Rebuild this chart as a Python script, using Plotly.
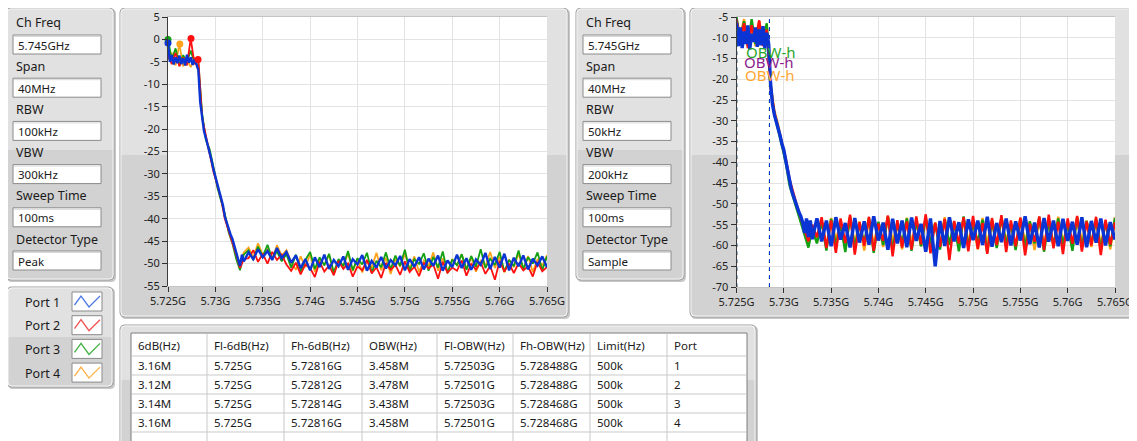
import numpy as np
import plotly.graph_objects as go

W, H = 1137, 441          # target screenshot size
PAGE_OFF = 8              # the page places the figure 8 px in from the top-left corner
FIG_W, FIG_H = W - PAGE_OFF, H - PAGE_OFF
FONT = "Noto Sans"

# ---------------- data ----------------
start_ghz = 5.725
stop_ghz = 5.765
x_tick_ghz = [5.725, 5.73, 5.735, 5.74, 5.745, 5.75, 5.755, 5.76, 5.765]
x_tick_labels = ["5.725G", "5.73G", "5.735G", "5.74G", "5.745G", "5.75G", "5.755G", "5.76G", "5.765G"]
left_y_ticks = [5, 0, -5, -10, -15, -20, -25, -30, -35, -40, -45, -50, -55]
right_y_ticks = [-5, -10, -15, -20, -25, -30, -35, -40, -45, -50, -55, -60, -65, -70]

setting_labels = ["Ch Freq", "Span", "RBW", "VBW", "Sweep Time", "Detector Type"]
left_setting_values = ["5.745GHz", "40MHz", "100kHz", "300kHz", "100ms", "Peak"]
right_setting_values = ["5.745GHz", "40MHz", "50kHz", "200kHz", "100ms", "Sample"]

port_names = ["Port 1", "Port 2", "Port 3", "Port 4"]
port_colors = ["#0a34d4", "#ff1010", "#13a013", "#ffa31a"]
legend_colors = ["#4f78e6", "#f05050", "#40b040", "#ffb040"]

# sample positions (MHz above start frequency)
offset_fine_mhz = np.concatenate([np.arange(0, 8.01, 0.2), np.arange(8.5, 40.01, 0.5)])
offset_coarse_mhz = np.concatenate([np.arange(0, 8.01, 0.4), np.arange(8.5, 40.01, 0.5)])

# left graph (Peak detector), dBm
peak_p1 = [-1.0, -5.0, -3.5, -5.6, -4.0, -5.3, -3.6, -5.5, -4.2, -5.8,
           -3.4, -5.2, -4.0, -5.7, -4.4, -5.4, -6.8, -14.0, -18.0, -20.5,
           -22.0, -23.5, -25.0, -27.0, -29.0, -30.5, -32.0, -33.5, -35.0, -37.0,
           -39.5, -41.0, -42.0, -43.5, -44.5, -46.0, -47.5, -49.5, -50.5, -48.0,
           -49.5,
           -47.5, -49.0, -46.8, -48.6, -47.2, -49.2, -46.5, -48.8, -47.4,
           -49.8, -48.2, -51.0, -49.0, -51.5, -48.6, -50.8, -48.0, -51.2, -49.2,
           -50.6, -48.4, -51.4, -49.0, -50.2, -48.1, -51.6, -49.4, -50.9, -48.5,
           -51.1, -49.2, -50.4, -48.3, -51.5, -49.0, -50.7, -48.6, -51.3, -48.9,
           -50.5, -48.2, -51.6, -49.3, -50.8, -48.0, -51.0, -48.8, -51.4, -49.1,
           -50.3, -47.6, -51.2, -48.5, -50.9, -47.8, -51.5, -48.7, -50.6, -48.2,
           -51.3, -48.9, -50.4, -48.4, -50.8]
peak_p2 = [-3.5, -5.5, -3.0, -6.0, -4.0, -5.8, 0.2, -5.5, -4.5, -17.5,
           -21.5, -25.5, -29.5, -32.5, -35.5, -40.0, -42.5, -45.0, -48.0, -51.0,
           -49.0,
           -48.8, -47.0, -49.6, -47.8, -50.0, -47.4, -49.2, -48.0, -50.2,
           -51.6, -49.8, -52.4, -50.2, -51.0, -53.0, -49.6, -51.8, -50.4, -52.6,
           -49.4, -51.2, -50.0, -52.9, -50.6, -51.5, -49.2, -52.2, -50.8, -53.2,
           -49.9, -51.4, -50.3, -52.5, -49.5, -51.9, -50.7, -52.8, -49.8, -51.1,
           -50.2, -53.4, -49.6, -52.0, -50.9, -51.6, -49.3, -52.7, -50.1, -51.3,
           -49.7, -52.3, -50.5, -53.6, -49.4, -51.8, -50.0, -52.1, -49.9, -51.5,
           -50.6, -52.9, -49.6, -51.7, -50.8]
peak_p3 = [0.0, -4.5, -2.0, -5.8, -3.5, -5.0, -2.5, -5.2, -5.0, -16.5,
           -22.5, -24.5, -28.5, -33.0, -36.0, -39.0, -43.0, -45.5, -49.0, -51.5,
           -48.0,
           -47.0, -49.2, -46.2, -48.4, -45.8, -48.9, -47.3, -49.5, -47.9,
           -50.9, -48.0, -51.8, -49.2, -47.4, -51.2, -48.6, -50.4, -47.8, -52.0,
           -49.0, -50.6, -47.2, -51.5, -48.8, -50.2, -47.6, -51.9, -49.4, -50.8,
           -47.5, -51.3, -48.2, -50.5, -46.9, -51.7, -49.0, -50.1, -47.7, -51.6,
           -48.5, -50.9, -47.3, -52.1, -49.1, -50.4, -47.9, -51.4, -48.3, -50.7,
           -46.8, -51.0, -48.9, -50.3, -47.4, -51.8, -49.2, -50.6, -47.1, -51.2,
           -48.6, -50.0, -47.5, -51.5, -48.4]
peak_p4 = [-4.5, -3.0, -5.8, -1.0, -6.0, -4.5, -6.2, -4.0, -6.8, -17.0,
           -22.0, -25.5, -29.0, -32.5, -35.5, -39.5, -42.5, -45.0, -48.0, -50.0,
           -47.5,
           -46.4, -48.6, -45.5, -48.0, -46.8, -49.0, -45.9, -48.2, -47.0,
           -49.6, -51.4, -48.4, -50.8, -47.9, -51.9, -49.1, -50.3, -48.0, -52.2,
           -49.5, -50.6, -47.7, -51.7, -48.9, -52.0, -49.2, -50.9, -47.6, -51.5,
           -48.7, -52.3, -49.0, -50.7, -47.8, -51.2, -48.4, -51.9, -49.3, -50.5,
           -47.5, -51.6, -48.8, -52.1, -49.0, -50.4, -47.9, -51.3, -48.6, -51.8,
           -49.4, -50.6, -47.4, -51.0, -48.5, -52.0, -49.1, -50.8, -47.7, -51.4,
           -48.3, -51.9, -49.0, -50.5, -48.1]

# peak markers on left graph
marker_p1_ghz, marker_p1_db = [5.725], [-0.8]
marker_p2_ghz, marker_p2_db = [5.72743, 5.72817], [0.2, -4.5]
marker_p3_ghz, marker_p3_db = [5.725], [0.0]
marker_p4_ghz, marker_p4_db = [5.72625], [-1.0]

# right graph (Sample detector), dBm
samp_p1 = [-6.5, -12.0, -7.5, -12.5, -8.5, -11.5, -7.0, -12.8, -9.0, -11.0,
           -7.5, -12.2, -8.0, -11.8, -7.2, -12.6, -8.8, -11.5, -21.0, -26.0,
           -28.5, -30.0, -32.0, -33.5, -35.5, -37.0, -39.5, -42.0, -44.5, -46.5,
           -48.0, -49.5, -50.5, -52.0, -53.0, -54.5, -57.0, -53.5, -58.0, -54.0,
           -58.5,
           -53.5, -59.0, -54.0, -60.2, -53.2, -58.6, -54.6, -60.5, -53.4, -59.3,
           -54.2, -59.8, -53.0, -58.8, -54.5, -61.0, -53.6, -59.5, -54.0, -60.4,
           -53.3, -58.9, -54.8, -61.5, -53.5, -65.0, -54.1, -60.1, -53.2, -59.0,
           -54.4, -60.6, -53.7, -58.7, -54.0, -59.9, -53.1, -60.3, -54.6, -59.2,
           -53.5, -60.0, -54.2, -58.8, -53.0, -59.7, -54.5, -60.5, -53.4, -59.1,
           -54.0, -60.2, -53.6, -58.9, -54.3, -59.8, -53.2, -60.4, -54.1, -59.3,
           -53.5, -60.0, -54.4, -58.6]
samp_p2 = [-5.5, -11.0, -6.5, -12.5, -7.0, -10.5, -5.8, -12.0, -8.0, -22.0,
           -28.0, -31.5, -35.0, -39.0, -44.0, -47.5, -50.5, -53.5, -56.0, -59.0,
           -55.0,
           -58.0, -53.2, -60.6, -54.0, -61.8, -53.5, -59.4, -52.6, -62.2, -54.4,
           -60.1, -53.1, -61.3, -54.7, -58.9, -52.8, -62.6, -53.9, -60.5, -54.2,
           -61.0, -53.0, -59.7, -52.5, -61.9, -54.5, -60.3, -53.6, -63.5, -54.1,
           -59.5, -53.2, -61.4, -52.9, -60.8, -54.6, -62.0, -53.4, -59.9, -52.7,
           -61.6, -54.0, -60.2, -53.3, -62.4, -54.8, -59.1, -53.0, -61.1, -52.6,
           -60.7, -54.3, -62.1, -53.5, -59.6, -52.9, -61.5, -54.2, -60.0, -53.1,
           -62.3, -53.8, -59.8, -54.4]
samp_p3 = [-5.0, -10.5, -6.0, -12.0, -5.5, -11.5, -7.0, -10.0, -6.5, -21.5,
           -28.5, -32.0, -36.0, -40.0, -45.5, -48.5, -51.5, -54.0, -57.5, -60.5,
           -56.0,
           -59.5, -54.2, -61.2, -53.6, -60.0, -54.9, -61.6, -53.1, -60.4, -55.0,
           -59.2, -53.4, -61.8, -54.3, -59.9, -53.0, -60.9, -54.7, -59.4, -53.5,
           -61.3, -54.1, -60.2, -53.2, -59.6, -54.8, -61.0, -53.7, -59.8, -54.5,
           -61.4, -53.0, -60.1, -54.6, -59.3, -53.8, -61.7, -54.0, -60.6, -53.3,
           -59.7, -54.9, -61.1, -53.6, -60.3, -54.2, -59.5, -53.1, -61.5, -54.4,
           -60.0, -53.5, -59.9, -54.8, -61.3, -53.2, -60.5, -54.1, -59.6, -53.7,
           -61.0, -54.3, -60.2, -53.4]
samp_p4 = [-6.0, -9.5, -5.5, -11.5, -7.5, -12.0, -6.0, -10.5, -7.5, -21.0,
           -27.5, -31.0, -35.5, -39.5, -44.5, -48.0, -51.0, -53.5, -57.0, -59.5,
           -55.5,
           -59.2, -54.0, -60.3, -53.4, -58.7, -54.7, -60.8, -53.1, -59.5, -54.2,
           -61.2, -53.6, -59.7, -54.4, -60.4, -53.0, -59.0, -54.8, -60.9, -53.3,
           -59.4, -54.1, -60.2, -53.8, -58.9, -54.5, -60.7, -53.2, -59.9, -54.3,
           -60.5, -53.7, -59.1, -54.6, -61.0, -53.4, -59.6, -54.0, -60.3, -53.5,
           -58.8, -54.9, -60.6, -53.3, -59.3, -54.2, -61.1, -53.6, -59.8, -54.4,
           -60.1, -53.1, -59.4, -54.7, -60.8, -53.5, -59.0, -54.0, -60.4, -53.8,
           -59.7, -54.3, -60.9, -53.2]

# results table
table_headers = ["6dB(Hz)", "Fl-6dB(Hz)", "Fh-6dB(Hz)", "OBW(Hz)", "Fl-OBW(Hz)", "Fh-OBW(Hz)", "Limit(Hz)", "Port"]
bw6db_mhz = [3.16, 3.12, 3.14, 3.16]
fl6db_ghz = [5.725, 5.725, 5.725, 5.725]
fh6db_ghz = [5.72816, 5.72812, 5.72814, 5.72816]
obw_mhz = [3.458, 3.478, 3.438, 3.458]
flobw_ghz = [5.72503, 5.72501, 5.72503, 5.72501]
fhobw_ghz = [5.728488, 5.728488, 5.728468, 5.728468]
limit_khz = [500, 500, 500, 500]
port_ids = [1, 2, 3, 4]
cursor_label = "OBW-h"

# ---------------- helpers ----------------
shapes = []
annotations = []


def X(p):
    return (p - PAGE_OFF) / FIG_W


def Y(p):
    return 1 - (p - PAGE_OFF) / FIG_H


def rect(x0, y0, x1, y1, fill, line=None, lw=1, layer="below"):
    shapes.append(dict(type="rect", xref="paper", yref="paper",
                       x0=X(x0), x1=X(x1), y0=Y(y1), y1=Y(y0),
                       fillcolor=fill, layer=layer,
                       line=dict(color=line if line else "rgba(0,0,0,0)", width=lw if line else 0)))


def rpath(x0, y0, x1, y1, rt, rb, fill, line=None, lw=1, layer="below"):
    p = (f"M{X(x0 + rt)},{Y(y0)} L{X(x1 - rt)},{Y(y0)} Q{X(x1)},{Y(y0)} {X(x1)},{Y(y0 + rt)} "
         f"L{X(x1)},{Y(y1 - rb)} Q{X(x1)},{Y(y1)} {X(x1 - rb)},{Y(y1)} "
         f"L{X(x0 + rb)},{Y(y1)} Q{X(x0)},{Y(y1)} {X(x0)},{Y(y1 - rb)} "
         f"L{X(x0)},{Y(y0 + rt)} Q{X(x0)},{Y(y0)} {X(x0 + rt)},{Y(y0)} Z")
    shapes.append(dict(type="path", xref="paper", yref="paper", path=p,
                       fillcolor=fill if fill else "rgba(0,0,0,0)", layer=layer,
                       line=dict(color=line if line else "rgba(0,0,0,0)", width=lw if line else 0)))


def panel(x0, y0, x1, y1, split, light="#e1e1e1", dark="#d2d2d2"):
    rpath(x0 + 1, y0 + 1, x1 + 2, y1 + 2, 5, 5, "#c8c8c8")
    rpath(x0, y0, x1, y1, 5, 5, light)
    rpath(x0 + 1, split, x1 - 1, y1 - 1, 0, 4, dark)
    rpath(x0, y0, x1, y1, 5, 5, None, "#9c9c9c", 1)
    rpath(x0 + 1, y0 + 1, x1 - 1, y1 - 1, 4, 4, None, "#f4f4f4", 1)


def text(x, y, s, size=12.5, color="#1a1a1a", anchor="left", family=FONT):
    annotations.append(dict(x=X(x), y=Y(y), xref="paper", yref="paper", text=s, showarrow=False,
                            xanchor=anchor, yanchor="middle",
                            font=dict(family=family, size=size, color=color)))


def line(x0, y0, x1, y1, color, lw=1, layer="below"):
    shapes.append(dict(type="line", xref="paper", yref="paper", x0=X(x0), x1=X(x1),
                       y0=Y(y0), y1=Y(y1), line=dict(color=color, width=lw), layer=layer))


# ---------------- panels ----------------
def control_panel(x0, values):
    panel(x0, 8, x0 + 108, 280, 150)
    for i, (lab, val) in enumerate(zip(setting_labels, values)):
        ly = 23 + 43.2 * i
        by = 35 + 43.2 * i
        text(x0 + 8, ly, lab, size=12.5)
        rect(x0 + 7, by, x0 + 95, by + 19, "white", "#8a8a8a", 1)
        line(x0 + 8, by + 1.5, x0 + 94, by + 1.5, "#d8d8d8")
        text(x0 + 10, by + 10, val, size=11.5)


control_panel(6, left_setting_values)
control_panel(576, right_setting_values)

# legend panel
panel(7, 287, 113, 387, 337)
for i, (nm, c) in enumerate(zip(port_names, legend_colors)):
    cy = 302 + 23.7 * i
    text(23, cy, nm, size=12.5)
    bx0, by0 = 72, cy - 10
    rect(bx0, by0, bx0 + 30, by0 + 19, "white", "#8a8a8a", 1)
    zz = [(bx0 + 2.5, by0 + 13), (bx0 + 9, by0 + 4), (bx0 + 17, by0 + 15), (bx0 + 28, by0 + 4)]
    p = "M" + " L".join(f"{X(a)},{Y(b)}" for a, b in zz)
    shapes.append(dict(type="path", xref="paper", yref="paper", path=p,
                       line=dict(color=c, width=1.3), layer="above"))

# chart panels
panel(120, 8, 568, 317, 155)
rect(168, 17, 547, 286, "white")
panel(690, 8, 1135, 317, 155)
rect(736.5, 17, 1115, 287, "white")

# table panel
panel(120, 325, 756, 448, 380)
tx0, tx1, ty0 = 131, 747, 333
rect(tx0, ty0, tx1, 445, "white", "#7c7c7c", 1)
col_x = [131, 207, 284, 362, 437, 513, 590, 667, 747]
row_y = [333, 356, 375, 394, 413, 432]
for cx in col_x[1:-1]:
    line(cx, ty0 + 1, cx, 441, "#c9c9c9")
for ry in row_y[1:]:
    line(tx0 + 1, ry, tx1 - 1, ry, "#c9c9c9")

table_cols = [
    [f"{v}M" for v in bw6db_mhz],
    [f"{v}G" for v in fl6db_ghz],
    [f"{v}G" for v in fh6db_ghz],
    [f"{v}M" for v in obw_mhz],
    [f"{v}G" for v in flobw_ghz],
    [f"{v}G" for v in fhobw_ghz],
    [f"{v}k" for v in limit_khz],
    [str(v) for v in port_ids],
]
for j, hdr in enumerate(table_headers):
    xl = col_x[j] + 5
    text(xl, 345, hdr, size=11.5)
    for r, val in enumerate(table_cols[j]):
        text(xl, (row_y[r + 1] + row_y[r + 2]) / 2, val, size=11.5)

# ---------------- traces ----------------
fig = go.Figure()


def add_spec(xa, ya, offsets, vals, color, width=1.2):
    offs = np.asarray(offsets)[:len(vals)]
    fig.add_trace(go.Scatter(x=start_ghz + offs / 1000.0, y=vals[:len(offs)], mode="lines",
                             line=dict(color=color, width=width), xaxis=xa, yaxis=ya,
                             hoverinfo="skip", showlegend=False))


# left: peak detector, draw port 4 first, port 1 last
add_spec("x", "y", offset_coarse_mhz, peak_p4, port_colors[3], 1.8)
add_spec("x", "y", offset_coarse_mhz, peak_p3, port_colors[2], 1.8)
add_spec("x", "y", offset_coarse_mhz, peak_p2, port_colors[1], 1.8)
add_spec("x", "y", offset_fine_mhz, peak_p1, port_colors[0], 2.4)

for mx, my, c in [(marker_p4_ghz, marker_p4_db, port_colors[3]), (marker_p3_ghz, marker_p3_db, port_colors[2]),
                  (marker_p2_ghz, marker_p2_db, port_colors[1]), (marker_p1_ghz, marker_p1_db, port_colors[0])]:
    fig.add_trace(go.Scatter(x=mx, y=my, mode="markers", marker=dict(color=c, size=7),
                             xaxis="x", yaxis="y", cliponaxis=False, hoverinfo="skip", showlegend=False))

# right: sample detector
add_spec("x2", "y2", offset_coarse_mhz, samp_p4, port_colors[3], 2.4)
add_spec("x2", "y2", offset_coarse_mhz, samp_p3, port_colors[2], 2.4)
add_spec("x2", "y2", offset_coarse_mhz, samp_p2, port_colors[1], 2.4)
add_spec("x2", "y2", offset_fine_mhz, samp_p1, port_colors[0], 3.4)

# OBW cursors
dashes = ["4px,4px", "2px,6px", "3px,5px", "1px,7px"]
for k in [3, 2, 1, 0]:
    for fx in (flobw_ghz[k], fhobw_ghz[k]):
        fig.add_trace(go.Scatter(x=[fx, fx], y=[-70, -5], mode="lines",
                                 line=dict(color=port_colors[k], width=1, dash=dashes[k]),
                                 xaxis="x2", yaxis="y2", hoverinfo="skip", showlegend=False))

# cursor labels (overlapping as in the instrument display)
text(744, 52, cursor_label, size=15, color="#2aa52a")
text(742, 62, cursor_label, size=15, color="#8a1c8c")
text(743, 75, cursor_label, size=15, color="#ffa733")

# ---------------- layout ----------------
axis_common = dict(showgrid=True, gridcolor="#e3e3e3", gridwidth=1, zeroline=False,
                   ticks="outside", ticklen=5, tickcolor="#303030", tickwidth=1,
                   tickfont=dict(family=FONT, size=11, color="#1e1e1e"), fixedrange=True,
                   automargin=False)

fig.update_layout(
    width=FIG_W, height=FIG_H, margin=dict(l=0, r=0, t=0, b=0, pad=0, autoexpand=False),
    autosize=False,
    paper_bgcolor="white", plot_bgcolor="white",
    font=dict(family=FONT),
    xaxis=dict(domain=[X(168), X(547)], range=[start_ghz, stop_ghz], tickvals=x_tick_ghz,
               ticktext=x_tick_labels, anchor="y", showline=True, linecolor="#c4c4c4",
               mirror=True, **axis_common),
    yaxis=dict(domain=[Y(286), Y(17)], range=[-55, 5], tickvals=left_y_ticks,
               ticktext=[str(v) for v in left_y_ticks], anchor="x", showline=True,
               linecolor="#3c3c3c", **axis_common),
    xaxis2=dict(domain=[X(736.5), X(1115)], range=[start_ghz, stop_ghz], tickvals=x_tick_ghz,
                ticktext=x_tick_labels, anchor="y2", showline=True, linecolor="#c4c4c4",
                mirror=True, **axis_common),
    yaxis2=dict(domain=[Y(287), Y(17)], range=[-70, -5], tickvals=right_y_ticks,
                ticktext=[str(v) for v in right_y_ticks], anchor="x2", showline=True,
                linecolor="#3c3c3c", **axis_common),
    shapes=shapes, annotations=annotations, showlegend=False,
)

fig.write_html("out.html")
